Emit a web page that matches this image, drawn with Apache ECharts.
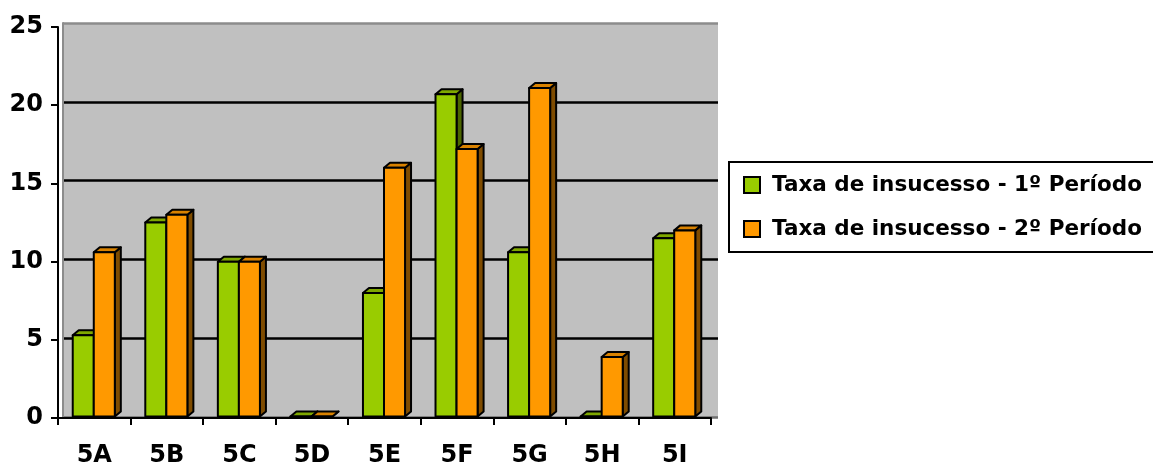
<!DOCTYPE html>
<html>
<head>
<meta charset="utf-8">
<script src="https://cdn.jsdelivr.net/npm/echarts@6/dist/echarts.min.js"></script>
<style>
  html, body { margin: 0; padding: 0; background: #fff; }
  #chart { width: 1153px; height: 468px; }
</style>
</head>
<body>
<div id="chart"></div>
<script>
// data
var turmas = ['5A', '5B', '5C', '5D', '5E', '5F', '5G', '5H', '5I']
var periodo1 = [5.2, 12.4, 9.9, 0, 7.9, 20.6, 10.5, 0, 11.4]
var periodo2 = [10.5, 12.9, 9.9, 0, 15.9, 17.1, 21, 3.8, 11.9]
var yTicks = [0, 5, 10, 15, 20, 25]
var seriesNames = ['Taxa de insucesso - 1º Período', 'Taxa de insucesso - 2º Período']

var FONT = 'DejaVu Sans'
var chart = echarts.init(document.getElementById('chart'))

// draws a column with a front face, a top and a right side (fake 3d)
function makeRender(idx, front, top, side) {
  return function(params, api) {
    var cat = api.value(0)
    var base = api.coord([cat, 0])
    var head = api.coord([cat, api.value(1)])
    var band = api.size([1, 0])[0]
    var w = band * 0.29
    var dx = 6
    var dy = 5
    var x0 = base[0] - w - 0.5 + idx * w
    var yt = head[1] - 1.5
    var yb = base[1] - 1.5
    var st = { stroke: '#000', lineWidth: 2, lineJoin: 'round' }
    return {
      type: 'group',
      children: [
        {
          type: 'polygon',
          shape: { points: [[x0 + w, yt], [x0 + w + dx, yt - dy], [x0 + w + dx, yb - dy], [x0 + w, yb]] },
          style: Object.assign({ fill: side }, st)
        },
        {
          type: 'polygon',
          shape: { points: [[x0, yt], [x0 + dx, yt - dy], [x0 + w + dx, yt - dy], [x0 + w, yt]] },
          style: Object.assign({ fill: top }, st)
        },
        {
          type: 'rect',
          shape: { x: x0, y: yt, width: w, height: yb - yt },
          style: Object.assign({ fill: front }, st)
        }
      ]
    }
  }
}

var option = {
  animation: false,
  backgroundColor: '#fff',
  grid: [
    { left: 58, right: 442, top: 27, bottom: 48 },
    // back wall
    {
      left: 63, right: 435, top: 23, bottom: 51,
      show: true, backgroundColor: '#C0C0C0', borderColor: '#8C8C8C', borderWidth: 0
    }
  ],
  legend: {
    orient: 'vertical',
    left: 729,
    top: 162,
    padding: [11, 20, 11, 14],
    itemGap: 20,
    itemWidth: 16,
    itemHeight: 16,
    icon: 'rect',
    borderColor: '#000',
    borderWidth: 2,
    borderRadius: 0,
    itemStyle: { borderColor: '#000', borderWidth: 2 },
    textStyle: {
      fontFamily: FONT, fontWeight: 'bold', fontSize: 21.5, color: '#000',
      lineHeight: 24, padding: [0, 0, 0, 7]
    },
    data: seriesNames
  },
  xAxis: [
    {
      type: 'category',
      gridIndex: 0,
      data: turmas,
      boundaryGap: true,
      axisLine: { lineStyle: { color: '#000', width: 2 } },
      axisTick: { show: true, length: 7, lineStyle: { color: '#000', width: 2 } },
      axisLabel: { margin: 26, fontFamily: FONT, fontWeight: 'bold', fontSize: 24, color: '#000' },
      z: 5
    },
    { type: 'category', gridIndex: 1, data: turmas, show: false }
  ],
  yAxis: [
    {
      type: 'value',
      gridIndex: 0,
      min: yTicks[0],
      max: yTicks[yTicks.length - 1],
      interval: 5,
      axisLine: { show: true, lineStyle: { color: '#000', width: 2 } },
      axisTick: { show: true, length: 7, lineStyle: { color: '#000', width: 2 } },
      axisLabel: { margin: 15, fontFamily: FONT, fontWeight: 'bold', fontSize: 24, color: '#000' },
      splitLine: { show: false },
      z: 5
    },
    {
      type: 'value',
      gridIndex: 1,
      min: yTicks[0],
      max: yTicks[yTicks.length - 1],
      interval: 5,
      axisLine: { show: true, lineStyle: { color: '#8C8C8C', width: 2 } },
      axisTick: { show: false },
      axisLabel: { show: false },
      splitLine: {
        show: true,
        lineStyle: { color: ['#6E6E6E', '#000', '#000', '#000', '#000', '#8C8C8C'], width: 2.5 }
      }
    }
  ],
  series: [
    {
      name: seriesNames[0],
      type: 'custom',
      xAxisIndex: 0,
      yAxisIndex: 0,
      itemStyle: { color: '#99CC00' },
      renderItem: makeRender(0, '#99CC00', '#7FA800', '#4C6600'),
      encode: { x: 0, y: 1 },
      data: periodo1.map(function(v, i) { return [i, v] }),
      z: 3
    },
    {
      name: seriesNames[1],
      type: 'custom',
      xAxisIndex: 0,
      yAxisIndex: 0,
      itemStyle: { color: '#FF9900' },
      renderItem: makeRender(1, '#FF9900', '#D98200', '#7F4C00'),
      encode: { x: 0, y: 1 },
      data: periodo2.map(function(v, i) { return [i, v] }),
      z: 3
    }
  ]
}

chart.setOption(option)
</script>
</body>
</html>
